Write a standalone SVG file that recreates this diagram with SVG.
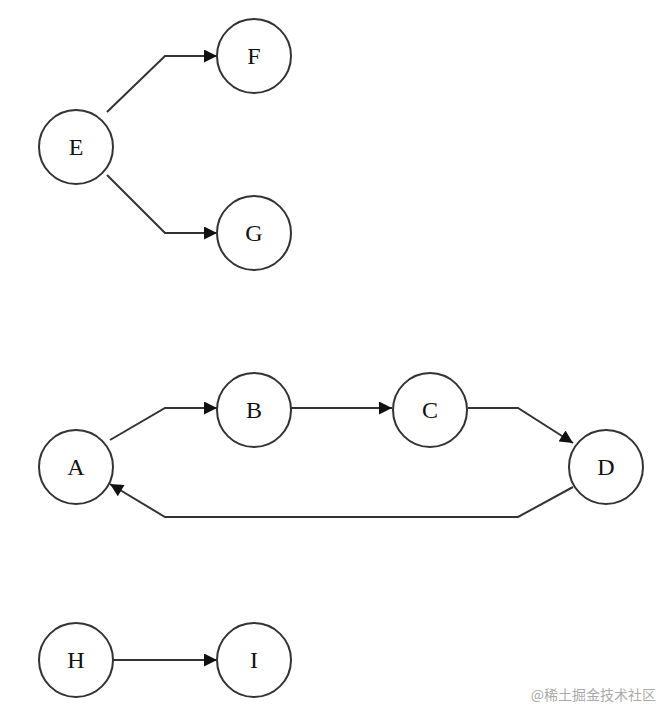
<svg xmlns="http://www.w3.org/2000/svg" width="672" height="722" viewBox="0 0 672 722">
<style>
.n circle{fill:#fff;stroke:#333;stroke-width:2}
.n text{font-family:"Liberation Serif",serif;font-size:24px;fill:#111;text-anchor:middle;dominant-baseline:central}
.e path{fill:none;stroke:#333;stroke-width:2;marker-end:url(#a)}
</style>
<defs><marker id="a" viewBox="0 0 10 10" refX="10" refY="5" markerWidth="14" markerHeight="13" markerUnits="userSpaceOnUse" orient="auto"><path d="M0,0L10,5L0,10z" fill="#111"/></marker></defs>
<rect width="672" height="722" fill="#fff"/>
<g class="e">
<path d="M107,112L165,56H217"/>
<path d="M107,175L165,233H217"/>
<path d="M110,440L165,408H217"/>
<path d="M291,408H392"/>
<path d="M468,408H518L573,443"/>
<path d="M573,487L518,517H165L110,484"/>
<path d="M113,660H217"/>
</g>
<g id="E" class="n"><circle cx="76" cy="147" r="37"/><text x="76" y="147">E</text></g>
<g id="F" class="n"><circle cx="254" cy="56" r="37"/><text x="254" y="56">F</text></g>
<g id="G" class="n"><circle cx="254" cy="233" r="37"/><text x="254" y="233">G</text></g>
<g id="A" class="n"><circle cx="76" cy="467" r="37"/><text x="76" y="467">A</text></g>
<g id="B" class="n"><circle cx="254" cy="410" r="37"/><text x="254" y="410">B</text></g>
<g id="C" class="n"><circle cx="430" cy="410" r="37"/><text x="430" y="410">C</text></g>
<g id="D" class="n"><circle cx="606" cy="467" r="37"/><text x="606" y="467">D</text></g>
<g id="H" class="n"><circle cx="76" cy="660" r="37"/><text x="76" y="660">H</text></g>
<g id="I" class="n"><circle cx="254" cy="660" r="37"/><text x="254" y="660">I</text></g>
<text x="656" y="700" text-anchor="end" font-family="'Noto Sans CJK SC',sans-serif" font-size="14" fill="#aaa">@稀土掘金技术社区</text>
</svg>
